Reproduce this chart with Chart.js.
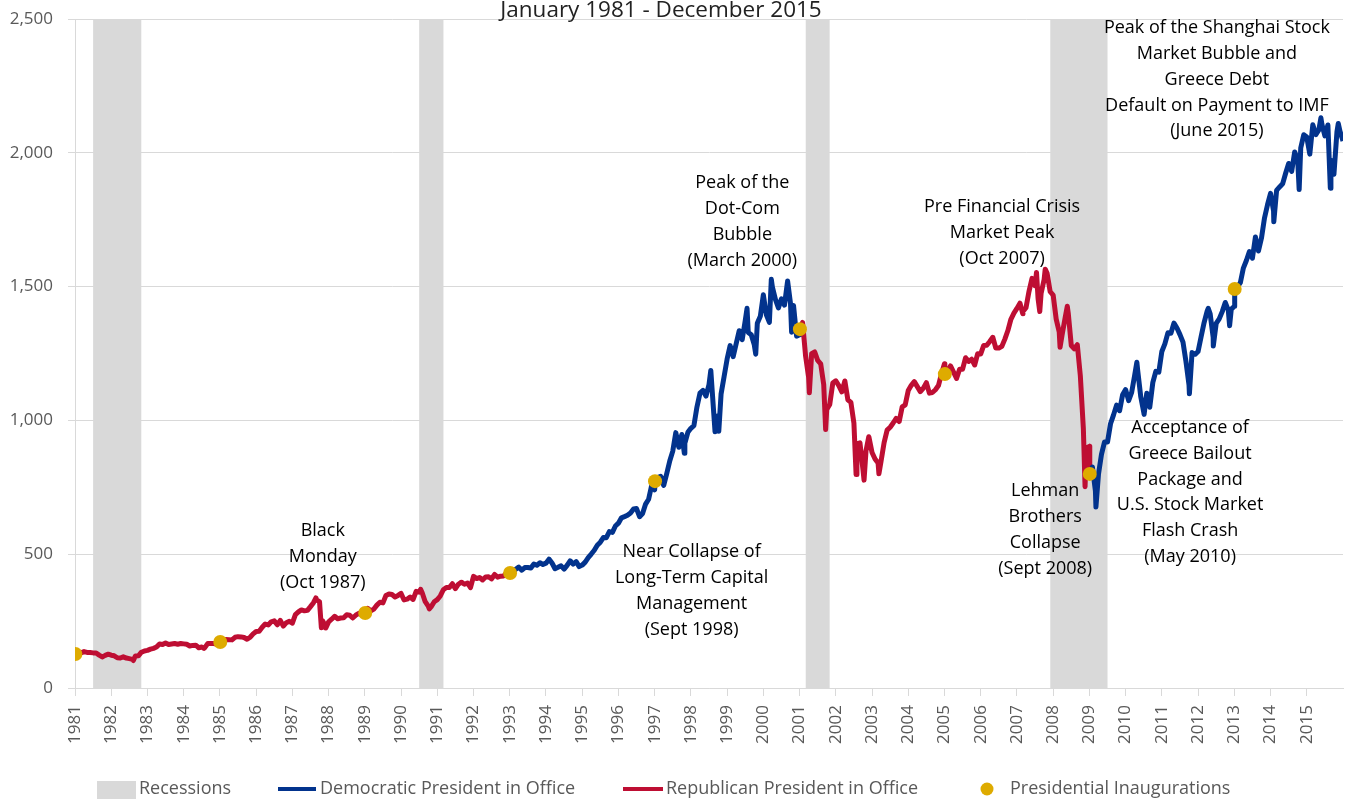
<!DOCTYPE html>
<html>
<head>
<meta charset="utf-8">
<script src="https://cdn.jsdelivr.net/npm/chart.js@4.4.1/dist/chart.umd.min.js"></script>
<style>
  html, body { margin: 0; padding: 0; background: #fff; }
  #wrap { width: 1350px; height: 799px; }
</style>
</head>
<body>
<div id="wrap"><canvas id="myChart" width="1350" height="799"></canvas></div>
<script>
// S&P 500, month-end closes, Jan 1981 - Dec 2015
const firstYear = 1981;
const startValue = 130;   // level at the left edge
const monthEndClose = [
  129.55, 131.27, 136.00, 132.81, 132.59, 131.21, 130.92, 122.79, 116.18, 121.89, 126.35, 122.55, // 1981
  120.40, 113.11, 111.96, 116.44, 111.88, 109.61, 107.09, 119.51, 120.42, 133.71, 138.54, 140.64, // 1982
  145.30, 148.06, 152.96, 164.42, 162.39, 168.11, 162.56, 164.40, 166.07, 163.55, 166.40, 164.93, // 1983
  163.41, 157.06, 159.18, 160.05, 150.55, 153.18, 150.66, 166.68, 166.10, 166.09, 163.58, 167.24, // 1984
  179.63, 181.18, 180.66, 179.83, 189.55, 191.85, 190.92, 188.63, 182.08, 189.82, 202.17, 211.28, // 1985
  211.78, 226.92, 238.90, 235.52, 247.35, 250.84, 236.12, 252.93, 231.32, 243.98, 249.22, 242.17, // 1986
  274.08, 284.20, 291.70, 288.36, 290.10, 304.00, 318.66, 329.80, 321.83, 251.79, 230.30, 247.08, // 1987
  257.07, 267.82, 258.89, 261.33, 262.16, 273.50, 272.02, 261.52, 271.91, 278.97, 273.70, 277.72, // 1988
  297.47, 288.86, 294.87, 309.64, 320.52, 317.98, 346.08, 351.45, 349.15, 340.36, 345.99, 353.40, // 1989
  329.08, 331.89, 339.94, 330.80, 361.23, 358.02, 356.15, 322.56, 306.05, 304.00, 322.22, 330.22, // 1990
  343.93, 367.07, 375.22, 375.35, 389.83, 371.16, 387.81, 395.43, 387.86, 392.46, 375.22, 417.09, // 1991
  408.79, 412.70, 403.69, 414.95, 415.35, 408.14, 424.21, 414.03, 417.80, 418.68, 431.35, 435.71, // 1992
  438.78, 443.38, 451.67, 440.19, 450.19, 450.53, 448.13, 463.56, 458.93, 467.83, 461.79, 466.45, // 1993
  481.61, 467.14, 445.77, 450.91, 456.50, 444.27, 458.26, 475.49, 462.69, 472.35, 453.69, 459.27, // 1994
  470.42, 487.39, 500.71, 514.71, 533.40, 544.75, 562.06, 561.88, 584.41, 581.50, 605.37, 615.93, // 1995
  636.02, 640.43, 645.50, 654.17, 669.12, 670.63, 639.95, 651.99, 687.31, 705.27, 757.02, 740.74, // 1996
  786.16, 790.82, 757.12, 801.34, 848.28, 885.14, 954.31, 899.47, 947.28, 914.62, 955.40, 970.43, // 1997
  980.28, 1049.34, 1101.75, 1111.75, 1090.82, 1133.84, 1120.67, 957.28, 1017.01, 1098.67, 1163.63, 1229.23, // 1998
  1279.64, 1238.33, 1286.37, 1335.18, 1301.84, 1372.71, 1328.72, 1320.41, 1282.71, 1362.93, 1388.91, 1469.25, // 1999
  1394.46, 1366.42, 1498.58, 1452.43, 1420.60, 1454.60, 1430.83, 1517.68, 1436.51, 1429.40, 1314.95, 1320.28, // 2000
  1366.01, 1239.94, 1160.33, 1249.46, 1255.82, 1224.42, 1211.23, 1133.58, 1040.94, 1059.78, 1139.45, 1148.08, // 2001
  1130.20, 1106.73, 1147.39, 1076.92, 1067.14, 989.82, 911.62, 916.07, 815.28, 885.76, 936.31, 879.82, // 2002
  855.70, 841.15, 848.18, 916.92, 963.59, 974.50, 990.31, 1008.01, 995.97, 1050.71, 1058.20, 1111.92, // 2003
  1131.13, 1144.94, 1126.21, 1107.30, 1120.68, 1140.84, 1101.72, 1104.24, 1114.58, 1130.20, 1173.82, 1211.92, // 2004
  1181.27, 1203.60, 1180.59, 1156.85, 1191.50, 1191.33, 1234.18, 1220.33, 1228.81, 1207.01, 1249.48, 1248.29, // 2005
  1280.08, 1280.66, 1294.83, 1310.61, 1270.09, 1270.20, 1276.66, 1303.82, 1335.85, 1377.94, 1400.63, 1418.30, // 2006
  1438.24, 1406.82, 1420.86, 1482.37, 1530.62, 1503.35, 1455.27, 1473.99, 1526.75, 1549.38, 1481.14, 1468.36, // 2007
  1378.55, 1330.63, 1322.70, 1385.59, 1400.38, 1280.00, 1267.38, 1282.83, 1166.36, 968.75, 896.24, 903.25, // 2008
  825.88, 735.09, 797.87, 872.81, 919.14, 919.32, 987.48, 1020.62, 1057.08, 1036.19, 1095.63, 1115.10, // 2009
  1073.87, 1104.49, 1169.43, 1186.69, 1089.41, 1030.71, 1101.60, 1049.33, 1141.20, 1183.26, 1180.55, 1257.64, // 2010
  1286.12, 1327.22, 1325.83, 1363.61, 1345.20, 1320.64, 1292.28, 1218.89, 1131.42, 1253.30, 1246.96, 1257.60, // 2011
  1312.41, 1365.68, 1408.47, 1397.91, 1310.33, 1362.16, 1379.32, 1406.58, 1440.67, 1412.16, 1416.18, 1426.19, // 2012
  1498.11, 1514.68, 1569.19, 1597.57, 1630.74, 1606.28, 1685.73, 1632.97, 1681.55, 1756.54, 1805.81, 1848.36, // 2013
  1782.59, 1859.45, 1872.34, 1883.95, 1923.57, 1960.23, 1930.67, 2003.37, 1972.29, 2018.05, 2067.56, 2058.90, // 2014
  1994.99, 2104.50, 2067.89, 2085.51, 2107.39, 2063.11, 2103.84, 1972.18, 1920.03, 2079.36, 2080.41, 2043.94  // 2015
];

// intra-month highs and lows that stick out of the line (decimal year, level)
const spikeDates  = [1982.61, 1984.56, 1987.65, 1987.80, 1987.92, 1990.54, 1990.78, 1997.82, 1998.55, 1998.77,
                     1999.55, 1999.79, 2000.22, 2000.67, 2000.78, 2001.27, 2001.72, 2002.56, 2002.78, 2002.91,
                     2003.19, 2007.16, 2007.54, 2007.63, 2007.78, 2008.19, 2008.39, 2008.88, 2009.18, 2010.31,
                     2010.51, 2011.76, 2012.28, 2012.42, 2012.87, 2014.09, 2014.79, 2015.39, 2015.65, 2015.87];
const spikeValues = [102.4, 147.8, 336.8, 224.8, 223.9, 368.9, 295.5, 877.0, 1186.8, 959.4,
                     1418.8, 1247.4, 1527.5, 1520.8, 1329.8, 1103.3, 965.8, 797.7, 776.8, 938.9,
                     800.7, 1399.0, 1553.1, 1406.7, 1565.2, 1273.4, 1426.6, 752.4, 676.5, 1217.3,
                     1022.6, 1099.2, 1419.0, 1278.0, 1353.3, 1741.9, 1862.5, 2130.8, 1867.6, 2109.8];

// presidential inaugurations
const inaugDates  = [1981.01, 1985.01, 1989.01, 1993.01, 1997.01, 2001.01, 2005.01, 2009.01, 2013.01];
const inaugValues = [127, 172, 280, 430, 773, 1341, 1173, 800, 1491];

// party in office from each change of party
const termStart = [1981.01, 1993.01, 2001.01, 2009.01];
const termParty = ['R', 'D', 'R', 'D'];

// NBER recessions
const recessionStart = [1981.50, 1990.50, 2001.17, 2007.92];
const recessionEnd   = [1982.83, 1991.17, 2001.83, 2009.50];

const yTicks = [0, 500, 1000, 1500, 2000, 2500];

const legendNames = ['Recessions', 'Democratic President in Office', 'Republican President in Office', 'Presidential Inaugurations'];

const annotations = [
  { x: 1987.84, y: 587,  lines: ['Black', 'Monday', '(Oct 1987)'] },
  { x: 1998.02, y: 508,  lines: ['Near Collapse of', 'Long-Term Capital', 'Management', '(Sept 1998)'] },
  { x: 1999.42, y: 1887, lines: ['Peak of the', 'Dot-Com', 'Bubble', '(March 2000)'] },
  { x: 2006.59, y: 1797, lines: ['Pre Financial Crisis', 'Market Peak', '(Oct 2007)'] },
  { x: 2012.52, y: 2466, lines: ['Peak of the Shanghai Stock', 'Market Bubble and', 'Greece Debt', 'Default on Payment to IMF', '(June 2015)'] },
  { x: 2007.78, y: 736,  lines: ['Lehman', 'Brothers', 'Collapse', '(Sept 2008)'] },
  { x: 2011.78, y: 972,  lines: ['Acceptance of', 'Greece Bailout', 'Package and', 'U.S. Stock Market', 'Flash Crash', '(May 2010)'] }
];

const RED = '#be0e33';
const BLUE = '#02338d';
const GOLD = '#deab00';
const GREY = '#d9d9d9';
const FONT = "'Open Sans', sans-serif";

// build the line series
let series = [{ x: firstYear, y: startValue }];
for (let i = 0; i < monthEndClose.length; i++) {
  series.push({ x: firstYear + (i + 1) / 12, y: monthEndClose[i] });
}
for (let i = 0; i < spikeDates.length; i++) series.push({ x: spikeDates[i], y: spikeValues[i] });
for (let i = 0; i < inaugDates.length; i++) series.push({ x: inaugDates[i], y: inaugValues[i] });
series.sort((a, b) => a.x - b.x);

let inaugPoints = inaugDates.map((d, i) => ({ x: d, y: inaugValues[i] }));

function partyAt(x) {
  let p = termParty[0];
  for (let i = 0; i < termStart.length; i++) {
    if (x >= termStart[i] - 1e-6) p = termParty[i];
  }
  return p;
}

const recessionPlugin = {
  id: 'recessions',
  beforeDatasetsDraw(chart) {
    let ctx = chart.ctx, a = chart.chartArea, xs = chart.scales.x;
    ctx.save();
    ctx.fillStyle = GREY;
    for (let i = 0; i < recessionStart.length; i++) {
      let x0 = xs.getPixelForValue(recessionStart[i]);
      let x1 = xs.getPixelForValue(recessionEnd[i]);
      ctx.fillRect(x0, a.top, x1 - x0, a.bottom - a.top);
    }
    ctx.restore();
  }
};

const textPlugin = {
  id: 'notes',
  afterDatasetsDraw(chart) {
    let ctx = chart.ctx, xs = chart.scales.x, ys = chart.scales.y;
    ctx.save();
    ctx.fillStyle = '#000';
    ctx.textAlign = 'center';
    ctx.textBaseline = 'middle';
    ctx.font = '18px ' + FONT;
    annotations.forEach(function(n) {
      let cx = xs.getPixelForValue(n.x);
      let cy = ys.getPixelForValue(n.y);
      n.lines.forEach(function(t, k) { ctx.fillText(t, cx, cy + k * 25.8); });
    });
    // title, half cut off at the top like the original
    ctx.fillStyle = '#222';
    ctx.textBaseline = 'alphabetic';
    ctx.font = '22.5px ' + FONT;
    ctx.fillText('January 1981 - December 2015', 661, 17);
    ctx.restore();
  }
};

// legend row at the bottom
const legendPlugin = {
  id: 'bottomLegend',
  afterDraw(chart) {
    let ctx = chart.ctx;
    let y = 789;
    let left = [97, 278, 623, 975];
    ctx.save();
    ctx.fillStyle = GREY;
    ctx.fillRect(left[0], 781, 39, 18);
    ctx.fillStyle = BLUE;
    ctx.fillRect(left[1], y - 2, 38, 4);
    ctx.fillStyle = RED;
    ctx.fillRect(left[2], y - 2, 40, 4);
    ctx.fillStyle = GOLD;
    ctx.beginPath(); ctx.arc(987, y, 6.5, 0, Math.PI * 2); ctx.fill();
    ctx.fillStyle = '#595959';
    ctx.font = '18px ' + FONT;
    ctx.textBaseline = 'middle';
    let textX = [139, 320, 666, 1010];
    legendNames.forEach(function(t, i) { ctx.fillText(t, textX[i], y); });
    ctx.restore();
  }
};

let ctx = document.getElementById('myChart');
new Chart(ctx, {
  type: 'line',
  data: {
    datasets: [{
      label: 'Presidential Inaugurations',
      data: inaugPoints,
      showLine: false,
      pointRadius: 7,
      pointHoverRadius: 7,
      pointBackgroundColor: GOLD,
      pointBorderWidth: 0
    }, {
      label: 'S&P 500',
      data: series,
      borderColor: RED,
      borderWidth: 5,
      pointRadius: 0,
      tension: 0,
      borderJoinStyle: 'round',
      segment: {
        borderColor: c => partyAt(c.p0.parsed.x) === 'D' ? BLUE : RED
      }
    }]
  },
  options: {
    responsive: false,
    animation: false,
    events: [],
    layout: { padding: { left: 0, right: 7, top: 19, bottom: 41 } },
    plugins: {
      tooltip: { enabled: false },
      legend: { display: false }
    },
    scales: {
      x: {
        type: 'linear',
        min: 1981,
        max: 2016,
        afterBuildTicks: function(s) { s.ticks = s.ticks.filter(t => t.value <= 2015); },
        afterFit: function(s) { s.height = 70; s.paddingLeft = 0; s.paddingRight = 0; },
        ticks: {
          stepSize: 1,
          autoSkip: false,
          minRotation: 90,
          maxRotation: 90,
          padding: 9,
          color: '#595959',
          font: { family: FONT, size: 17 },
          callback: v => String(v)
        },
        grid: { drawOnChartArea: false, drawTicks: true, tickLength: 8, color: GREY },
        border: { display: true, color: GREY }
      },
      y: {
        min: 0,
        max: 2500,
        afterBuildTicks: function(s) { s.ticks = yTicks.map(v => ({ value: v })); },
        afterFit: function(s) { s.width = 75; s.paddingTop = 0; s.paddingBottom = 0; },
        ticks: {
          padding: 15,
          color: '#595959',
          font: { family: FONT, size: 17 },
          callback: v => v.toLocaleString('en-US')
        },
        grid: { color: GREY, tickLength: 7 },
        border: { display: true, color: GREY }
      }
    }
  },
  plugins: [recessionPlugin, textPlugin, legendPlugin]
});
</script>
</body>
</html>
